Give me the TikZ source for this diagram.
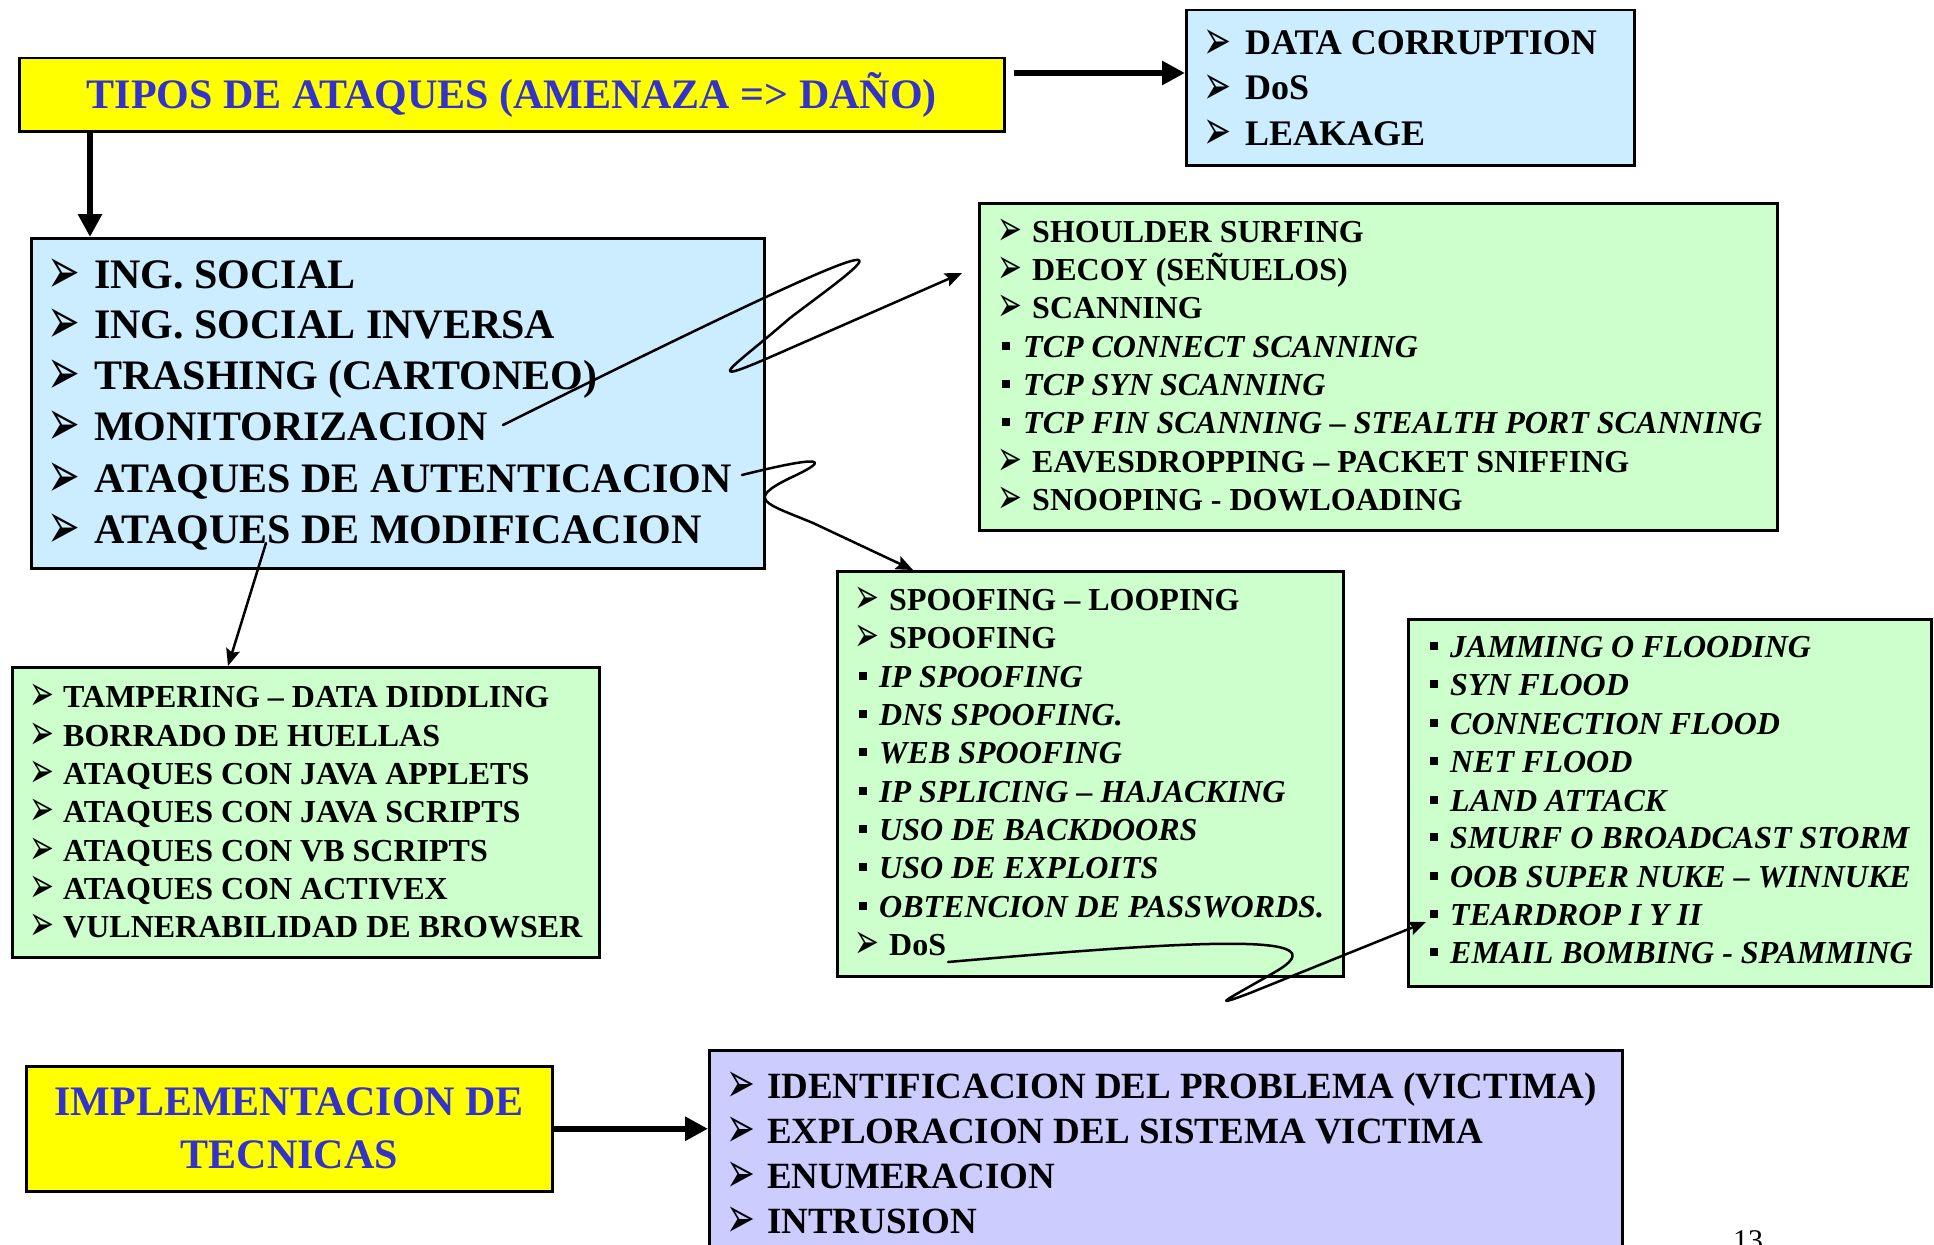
\documentclass[tikz,border=0pt]{standalone}
\usepackage{fontspec}
\usepackage{graphicx}
\setmainfont{Liberation Serif}
\newfontfamily\dingfont{DejaVu Sans}
\usepackage{tikz}
\usetikzlibrary{arrows.meta}

\definecolor{titleyellow}{HTML}{FFFF00}
\definecolor{skyfill}{HTML}{CCECFF}
\definecolor{mintfill}{HTML}{CCFFCC}
\definecolor{lilacfill}{HTML}{CCCCFF}
\definecolor{titleblue}{HTML}{3333CC}

\newcommand{\arbul}[1]{\makebox[#1][l]{\hspace{-0.13em}\raisebox{-0.12em}{\scalebox{0.93}[1.55]{\dingfont ➢}}}}
\newcommand{\sqbul}[1]{\makebox[#1][l]{\rule[0.22em]{0.25em}{0.25em}}}
\newcommand{\fsz}[2]{\fontsize{#1pt}{#2pt}\selectfont\bfseries}

\tikzset{
  box/.style={draw=black, line width=2.5pt, anchor=north west, inner sep=0pt},
  item/.style={anchor=base west, inner sep=0pt},
  bigarrow/.style={-{Triangle[length=23pt,width=23pt]}, line width=6.5pt},
  thinarrow/.style={-{Stealth[length=17pt,width=14pt,inset=3pt]}, line width=2.5pt, line cap=round, line join=round},
}

\begin{document}
\begin{tikzpicture}[x=1pt,y=-1pt]
  \useasboundingbox (0,0) rectangle (1934,1244);

  %% boxes
  \node[box, fill=titleyellow, minimum width=985pt, minimum height=73pt, text=titleblue, font=\fsz{42}{50}] (title) at (18,57) {TIPOS DE ATAQUES (AMENAZA => DAÑO)};
  \node[box, fill=skyfill, minimum width=448pt, minimum height=155pt] (dmg) at (1185,9) {};
  \node[box, fill=skyfill, minimum width=733pt, minimum height=330pt] (ing) at (30,237) {};
  \node[box, fill=mintfill, minimum width=798pt, minimum height=327pt] (scan) at (978,202) {};
  \node[box, fill=mintfill, minimum width=506pt, minimum height=405pt] (spoof) at (836,570) {};
  \node[box, fill=mintfill, minimum width=523pt, minimum height=367pt] (flood) at (1407,618) {};
  \node[box, fill=mintfill, minimum width=587pt, minimum height=290pt] (tamper) at (11,666) {};
  \node[box, fill=titleyellow, minimum width=526pt, minimum height=125pt, align=center, text=titleblue, font=\fsz{42}{53}] (impl) at (25,1065) {IMPLEMENTACION DE\\TECNICAS};
  \node[box, fill=lilacfill, minimum width=913pt, minimum height=260pt] (steps) at (708,1049) {};

  %% damage
  \node[item, font=\fsz{36}{45}] (dmg1) at (1208,55) {\arbul{37pt}DATA CORRUPTION};
  \node[item, font=\fsz{36}{45}] (dmg2) at (1208,100) {\arbul{37pt}DoS};
  \node[item, font=\fsz{36}{45}] (dmg3) at (1208,145) {\arbul{37pt}LEAKAGE};

  %% attack kinds
  \node[item, font=\fsz{42}{51}] (ing1) at (53,288) {\arbul{41pt}ING. SOCIAL};
  \node[item, font=\fsz{42}{51}] (ing2) at (53,338) {\arbul{41pt}ING. SOCIAL INVERSA};
  \node[item, font=\fsz{42}{51}] (ing3) at (53,389) {\arbul{41pt}TRASHING (CARTONEO)};
  \node[item, font=\fsz{42}{51}] (ing4) at (53,440) {\arbul{41pt}MONITORIZACION};
  \node[item, font=\fsz{42}{51}] (ing5) at (53,492) {\arbul{41pt}ATAQUES DE AUTENTICACION};
  \node[item, font=\fsz{42}{51}] (ing6) at (53,543) {\arbul{41pt}ATAQUES DE MODIFICACION};

  %% monitoring
  \node[item, font=\fsz{32}{38}] (scan1) at (1001,242) {\arbul{31pt}SHOULDER SURFING};
  \node[item, font=\fsz{32}{38}] (scan2) at (1001,280) {\arbul{31pt}DECOY (SEÑUELOS)};
  \node[item, font=\fsz{32}{38}] (scan3) at (1001,318) {\arbul{31pt}SCANNING};
  \node[item, font=\fsz{32}{38}\itshape] (scan4) at (1002,357) {\sqbul{21pt}TCP CONNECT SCANNING};
  \node[item, font=\fsz{32}{38}\itshape] (scan5) at (1002,395) {\sqbul{21pt}TCP SYN SCANNING};
  \node[item, font=\fsz{32}{38}\itshape] (scan6) at (1002,433) {\sqbul{21pt}TCP FIN SCANNING – STEALTH PORT SCANNING};
  \node[item, font=\fsz{32}{38}] (scan7) at (1001,472) {\arbul{31pt}EAVESDROPPING – PACKET SNIFFING};
  \node[item, font=\fsz{32}{38}] (scan8) at (1001,510) {\arbul{31pt}SNOOPING - DOWLOADING};

  %% authentication
  \node[item, font=\fsz{32}{38}] (spoof1) at (858,610) {\arbul{31pt}SPOOFING – LOOPING};
  \node[item, font=\fsz{32}{38}] (spoof2) at (858,648) {\arbul{31pt}SPOOFING};
  \node[item, font=\fsz{32}{38}\itshape] (spoof3) at (859,687) {\sqbul{20pt}IP SPOOFING};
  \node[item, font=\fsz{32}{38}\itshape] (spoof4) at (859,725) {\sqbul{20pt}DNS SPOOFING.};
  \node[item, font=\fsz{32}{38}\itshape] (spoof5) at (859,763) {\sqbul{20pt}WEB SPOOFING};
  \node[item, font=\fsz{32}{38}\itshape] (spoof6) at (859,802) {\sqbul{20pt}IP SPLICING – HAJACKING};
  \node[item, font=\fsz{32}{38}\itshape] (spoof7) at (859,840) {\sqbul{20pt}USO DE BACKDOORS};
  \node[item, font=\fsz{32}{38}\itshape] (spoof8) at (859,878) {\sqbul{20pt}USO DE EXPLOITS};
  \node[item, font=\fsz{32}{38}\itshape] (spoof9) at (859,917) {\sqbul{20pt}OBTENCION DE PASSWORDS.};
  \node[item, font=\fsz{32}{38}] (spoof10) at (858,955) {\arbul{31pt}DoS};

  %% denial of service
  \node[item, font=\fsz{32}{38}\itshape] (flood1) at (1430,657) {\sqbul{20pt}JAMMING O FLOODING};
  \node[item, font=\fsz{32}{38}\itshape] (flood2) at (1430,695) {\sqbul{20pt}SYN FLOOD};
  \node[item, font=\fsz{32}{38}\itshape] (flood3) at (1430,734) {\sqbul{20pt}CONNECTION FLOOD};
  \node[item, font=\fsz{32}{38}\itshape] (flood4) at (1430,772) {\sqbul{20pt}NET FLOOD};
  \node[item, font=\fsz{32}{38}\itshape] (flood5) at (1430,811) {\sqbul{20pt}LAND ATTACK};
  \node[item, font=\fsz{32}{38}\itshape] (flood6) at (1430,848) {\sqbul{20pt}SMURF O BROADCAST STORM};
  \node[item, font=\fsz{32}{38}\itshape] (flood7) at (1430,887) {\sqbul{20pt}OOB SUPER NUKE – WINNUKE};
  \node[item, font=\fsz{32}{38}\itshape] (flood8) at (1430,925) {\sqbul{20pt}TEARDROP I Y II};
  \node[item, font=\fsz{32}{38}\itshape] (flood9) at (1430,963) {\sqbul{20pt}EMAIL BOMBING - SPAMMING};

  %% modification
  \node[item, font=\fsz{32}{38}] (tamp1) at (33,707) {\arbul{30pt}TAMPERING – DATA DIDDLING};
  \node[item, font=\fsz{32}{38}] (tamp2) at (33,746) {\arbul{30pt}BORRADO DE HUELLAS};
  \node[item, font=\fsz{32}{38}] (tamp3) at (33,784) {\arbul{30pt}ATAQUES CON JAVA APPLETS};
  \node[item, font=\fsz{32}{38}] (tamp4) at (33,822) {\arbul{30pt}ATAQUES CON JAVA SCRIPTS};
  \node[item, font=\fsz{32}{38}] (tamp5) at (33,861) {\arbul{30pt}ATAQUES CON VB SCRIPTS};
  \node[item, font=\fsz{32}{38}] (tamp6) at (33,899) {\arbul{30pt}ATAQUES CON ACTIVEX};
  \node[item, font=\fsz{32}{38}] (tamp7) at (33,937) {\arbul{30pt}VULNERABILIDAD DE BROWSER};

  %% steps
  \node[item, font=\fsz{37}{45}] (step1) at (731,1098) {\arbul{36pt}IDENTIFICACION DEL PROBLEMA (VICTIMA)};
  \node[item, font=\fsz{37}{45}] (step2) at (731,1143) {\arbul{36pt}EXPLORACION DEL SISTEMA VICTIMA};
  \node[item, font=\fsz{37}{45}] (step3) at (731,1188) {\arbul{36pt}ENUMERACION};
  \node[item, font=\fsz{37}{45}] (step4) at (731,1233) {\arbul{36pt}INTRUSION};

  \node[item, font=\fontsize{30pt}{36pt}\selectfont] (pagenum) at (1733,1250) {13};

  %% free ends
  \coordinate (monStart) at (503,425);
  \coordinate (monTip) at (962,273);
  \coordinate (autStart) at (742,475);
  \coordinate (modStart) at (266,543);
  \coordinate (dosStart) at (948,962);
  \coordinate (dosTip) at (1426,922);

  %% lines
  \draw[bigarrow] ([shift={(8pt,-16pt)}]title.north east) -- ([yshift=-64pt]dmg.north west);
  \draw[bigarrow] ([xshift=72pt]title.south west) -- ([xshift=60pt]ing.north west);
  \draw[bigarrow] (impl.east) -- (impl.east -| steps.west);
  \draw[thinarrow] (monStart) .. controls (960,198) and (880,250) .. (790,318)
        .. controls (735,366) and (695,390) .. (775,355) -- (monTip);
  \draw[thinarrow] (autStart) .. controls (810,458) and (840,455) .. (790,478)
        .. controls (745,500) and (765,503) .. (813,523) -- ([xshift=77pt]spoof.north west);
  \draw[thinarrow] (modStart) -- ([xshift=217pt]tamper.north west);
  \draw[thinarrow] (dosStart) .. controls (1200,940) and (1345,932) .. (1275,972)
        .. controls (1230,998) and (1205,1010) .. (1250,993) -- (dosTip);
\end{tikzpicture}
\end{document}
